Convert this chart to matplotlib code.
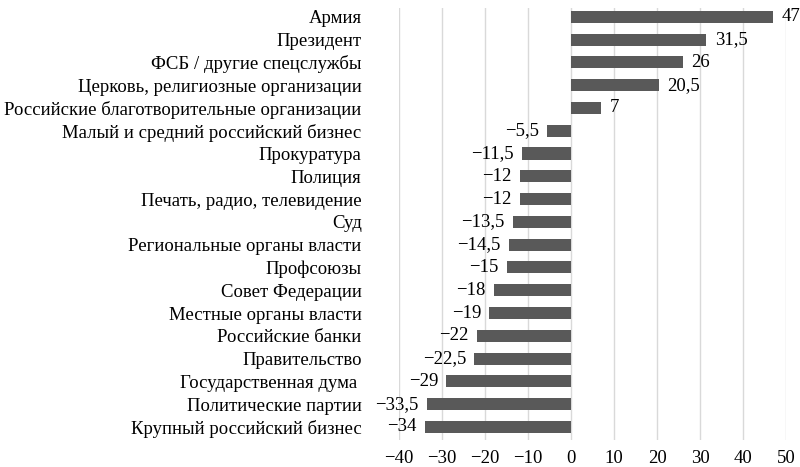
import matplotlib.pyplot as plt

# категории сверху вниз и значения
categories = [
    "Армия", "Президент", "ФСБ / другие спецслужбы",
    "Церковь, религиозные организации",
    "Российские благотворительные организации",
    "Малый и средний российский бизнес", "Прокуратура", "Полиция",
    "Печать, радио, телевидение", "Суд", "Региональные органы власти",
    "Профсоюзы", "Совет Федерации", "Местные органы власти",
    "Российские банки", "Правительство", "Государственная дума ",
    "Политические партии", "Крупный российский бизнес",
]
values = [47, 31.5, 26, 20.5, 7, -5.5, -11.5, -12, -12, -13.5, -14.5,
          -15, -18, -19, -22, -22.5, -29, -33.5, -34]
ticks = list(range(-40, 51, 10))

plt.rcParams["font.family"] = ["Liberation Serif", "DejaVu Serif"]
plt.rcParams["axes.unicode_minus"] = True
fs = 13.5

fig = plt.figure(figsize=(8, 4.67), dpi=100)
ax = fig.add_axes([0.499, 0.058, 0.4835, 0.925])

y = list(range(len(categories)))
ax.barh(y, values, height=0.53, color="#595959", zorder=3)

def fmt(v):
    s = ("%g" % abs(v)).replace(".", ",")
    return ("\u2212" + s) if v < 0 else s

for yi, v in zip(y, values):
    if v >= 0:
        ax.annotate(fmt(v), (v, yi), xytext=(6, 0), textcoords="offset points",
                    ha="left", va="center", fontsize=fs, annotation_clip=False)
    else:
        ax.annotate(fmt(v), (v, yi), xytext=(-6, 0), textcoords="offset points",
                    ha="right", va="center", fontsize=fs)

ax.set_xlim(-40, 50)
ax.set_ylim(18.57, -0.39)
ax.set_xticks(ticks)
ax.set_xticklabels([fmt(t) for t in ticks], fontsize=fs)
ax.set_yticks(y)
ax.set_yticklabels(categories, fontsize=fs)
ax.tick_params(axis="y", length=0, pad=27)
ax.tick_params(axis="x", length=0, pad=7)
ax.grid(axis="x", color="#d9d9d9", linewidth=1, zorder=0)
for s in ax.spines.values():
    s.set_visible(False)

fig.savefig("out.png", dpi=100)
